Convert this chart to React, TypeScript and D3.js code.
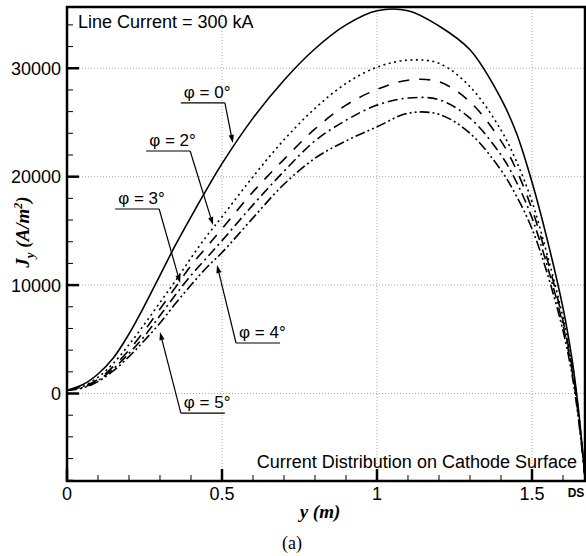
import React from "react";
import * as d3 from "d3";

// distance along cathode, y (m)
const Y_POS = [0, 0.05, 0.1, 0.15, 0.2, 0.25, 0.3, 0.35, 0.4, 0.45, 0.5, 0.6, 0.7, 0.8, 0.9, 1.0, 1.1, 1.2, 1.3, 1.4, 1.45, 1.5, 1.55, 1.6, 1.63, 1.65, 1.672];

// current density Jy (A/m^2) for each tilt angle
const J_PHI0 = [300, 800, 1800, 3300, 5500, 8100, 10900, 13700, 16300, 18800, 21200, 25400, 28900, 31800, 34000, 35300, 35300, 33900, 31700, 27200, 24000, 19500, 14100, 7900, 3000, -1500, -8000];
const J_PHI2 = [300, 650, 1500, 2800, 4500, 6400, 8400, 10400, 12500, 14500, 16300, 20000, 23400, 26300, 28600, 30100, 30750, 30450, 28300, 24300, 21400, 17700, 12700, 7000, 2600, -1700, -8000];
const J_PHI3 = [300, 600, 1300, 2500, 4000, 5800, 7800, 9800, 11800, 13500, 15200, 18600, 21600, 24400, 26600, 28050, 28900, 28750, 26900, 23300, 20600, 17000, 12300, 6700, 2300, -1900, -8000];
const J_PHI4 = [300, 550, 1200, 2300, 3700, 5300, 7200, 9100, 10900, 12500, 14100, 17400, 20500, 23300, 25200, 26600, 27250, 27100, 25400, 22000, 19500, 16200, 11700, 6300, 2000, -2100, -8000];
const J_PHI5 = [300, 500, 1100, 2100, 3400, 4900, 6500, 8300, 10000, 11600, 13000, 16200, 19300, 21700, 23300, 24600, 25850, 25750, 24000, 20600, 18200, 15200, 11000, 5800, 1600, -2400, -8000];

const X_TICKS = [0, 0.5, 1, 1.5];
const X_TICK_LABELS = ["0", "0.5", "1", "1.5"];
const Y_TICKS = [0, 10000, 20000, 30000];

// curve labels: where the text sits and where the arrow points (data units)
const LABELS = ["φ = 0°", "φ = 2°", "φ = 3°", "φ = 4°", "φ = 5°"];
const LABEL_AT_Y = [0.377, 0.265, 0.165, 0.555, 0.377];
const LABEL_AT_J = [27260, 22830, 17480, 5120, -1340];
const ARROW_TO_Y = [0.535, 0.471, 0.365, 0.484, 0.3];
const ARROW_TO_J = [23110, 15540, 10190, 11850, 5670];

const series = [
  { j: J_PHI0, dash: null },
  { j: J_PHI2, dash: "2,3.5" },
  { j: J_PHI3, dash: "11,10" },
  { j: J_PHI4, dash: "10,4,2,4" },
  { j: J_PHI5, dash: "10,3,2,3,2,3" },
];

const W = 586;
const H = 556;
const left = 67, right = 585, top = 7, bottom = 481;

export default function App() {
  const x = d3.scaleLinear().domain([0, 1.671]).range([left, right]);
  const y = d3.scaleLinear().domain([-8070, 35650]).range([bottom, top]);

  const line = d3
    .line<number>()
    .x((_, i) => x(Y_POS[i]))
    .y((d) => y(d))
    .curve(d3.curveCatmullRom.alpha(0.5));

  const minorX = d3.range(0, 1.67, 0.1).filter((v) => Math.abs(v * 2 - Math.round(v * 2)) > 1e-6);
  const minorY = d3.range(-8000, 35000, 2000).filter((v) => v % 10000 !== 0);

  const sans = "'Liberation Sans', Arial, sans-serif";
  const serif = "'Liberation Serif', 'Times New Roman', serif";

  return (
    <svg width={W} height={H} style={{ position: "absolute", left: 0, top: 0, background: "#fff" }}>
      <defs>
        <clipPath id="plot">
          <rect x={left} y={top} width={right - left} height={bottom - top} />
        </clipPath>
      </defs>

      {/* grid */}
      <g stroke="#aaa" strokeWidth={1} strokeDasharray="1,2">
        {X_TICKS.filter((t) => t > 0).map((t) => (
          <line key={"gx" + t} x1={x(t)} x2={x(t)} y1={top} y2={bottom} />
        ))}
        {Y_TICKS.map((t) => (
          <line key={"gy" + t} x1={left} x2={right} y1={y(t)} y2={y(t)} />
        ))}
      </g>

      {/* curves */}
      <g clipPath="url(#plot)" fill="none" stroke="#000" strokeWidth={1.6}>
        {series.map((s, i) => (
          <path key={i} d={line(s.j) || ""} strokeDasharray={s.dash || undefined} />
        ))}
      </g>

      {/* ticks */}
      <g stroke="#000">
        {Y_TICKS.map((t) => (
          <line key={"ty" + t} x1={left} x2={left + 12} y1={y(t)} y2={y(t)} strokeWidth={2.5} />
        ))}
        {minorY.map((t) => (
          <line key={"my" + t} x1={left} x2={left + 6} y1={y(t)} y2={y(t)} strokeWidth={1} />
        ))}
        {X_TICKS.map((t) => (
          <line key={"tx" + t} x1={x(t)} x2={x(t)} y1={bottom} y2={bottom - 12} strokeWidth={2.5} />
        ))}
        {minorX.map((t) => (
          <line key={"mx" + t} x1={x(t)} x2={x(t)} y1={bottom} y2={bottom - 6} strokeWidth={1} />
        ))}
      </g>

      {/* frame */}
      <rect x={left} y={top} width={right - left} height={bottom - top} fill="none" stroke="#000" strokeWidth={2.5} />

      {/* tick labels */}
      <g fontFamily={sans} fontSize={18} fill="#000">
        {Y_TICKS.map((t) => (
          <text key={"ly" + t} x={left - 6} y={y(t)} dy="0.36em" textAnchor="end">
            {t}
          </text>
        ))}
        {X_TICKS.map((t, i) => (
          <text key={"lx" + t} x={x(t)} y={bottom + 19} textAnchor="middle">
            {X_TICK_LABELS[i]}
          </text>
        ))}
      </g>
      <text x={576} y={bottom + 16} fontFamily={sans} fontSize={12} fontWeight="bold" textAnchor="middle">
        DS
      </text>

      {/* in-plot captions */}
      <text x={left + 11} y={top + 21} fontFamily={sans} fontSize={18}>
        Line Current = 300 kA
      </text>
      <text x={right - 8} y={bottom - 13} fontFamily={sans} fontSize={18} textAnchor="end">
        Current Distribution on Cathode Surface
      </text>

      {/* curve labels */}
      {LABELS.map((lab, i) => {
        const tx = x(LABEL_AT_Y[i]);
        const ty = y(LABEL_AT_J[i]);
        const ax = x(ARROW_TO_Y[i]);
        const ay = y(ARROW_TO_J[i]);
        const uy = ty + 5;
        const ux0 = tx - 3;
        const ux1 = tx + 41;
        const sx = ax > tx + 20 ? ux1 : ux0;
        const ang = Math.atan2(ay - uy, ax - sx);
        const hl = 8, hw = 2.6;
        const bx = ax - hl * Math.cos(ang);
        const by = ay - hl * Math.sin(ang);
        const px = -Math.sin(ang) * hw;
        const py = Math.cos(ang) * hw;
        return (
          <g key={lab}>
            <text x={tx} y={ty} fontFamily={sans} fontSize={17}>
              {lab}
            </text>
            <line x1={ux0} x2={ux1} y1={uy} y2={uy} stroke="#000" strokeWidth={1.2} />
            <line x1={sx} y1={uy} x2={bx} y2={by} stroke="#000" strokeWidth={1.2} />
            <polygon points={`${ax},${ay} ${bx + px},${by + py} ${bx - px},${by - py}`} fill="#000" />
          </g>
        );
      })}

      {/* axis titles */}
      <text
        transform={`translate(29, ${(top + bottom) / 2 - 12}) rotate(-90)`}
        textAnchor="middle"
        fontFamily={serif}
        fontSize={19}
        fontWeight="bold"
        fontStyle="italic"
      >
        J<tspan fontSize={13} dy={5}>y</tspan>
        <tspan dy={-5}> (A/m</tspan>
        <tspan fontSize={12} dy={-7}>2</tspan>
        <tspan dy={7}>)</tspan>
      </text>
      <text x={320} y={518} textAnchor="middle" fontFamily={serif} fontSize={19} fontWeight="bold" fontStyle="italic">
        y (m)
      </text>
      <text x={292} y={549} textAnchor="middle" fontFamily={serif} fontSize={18}>
        (a)
      </text>
    </svg>
  );
}
